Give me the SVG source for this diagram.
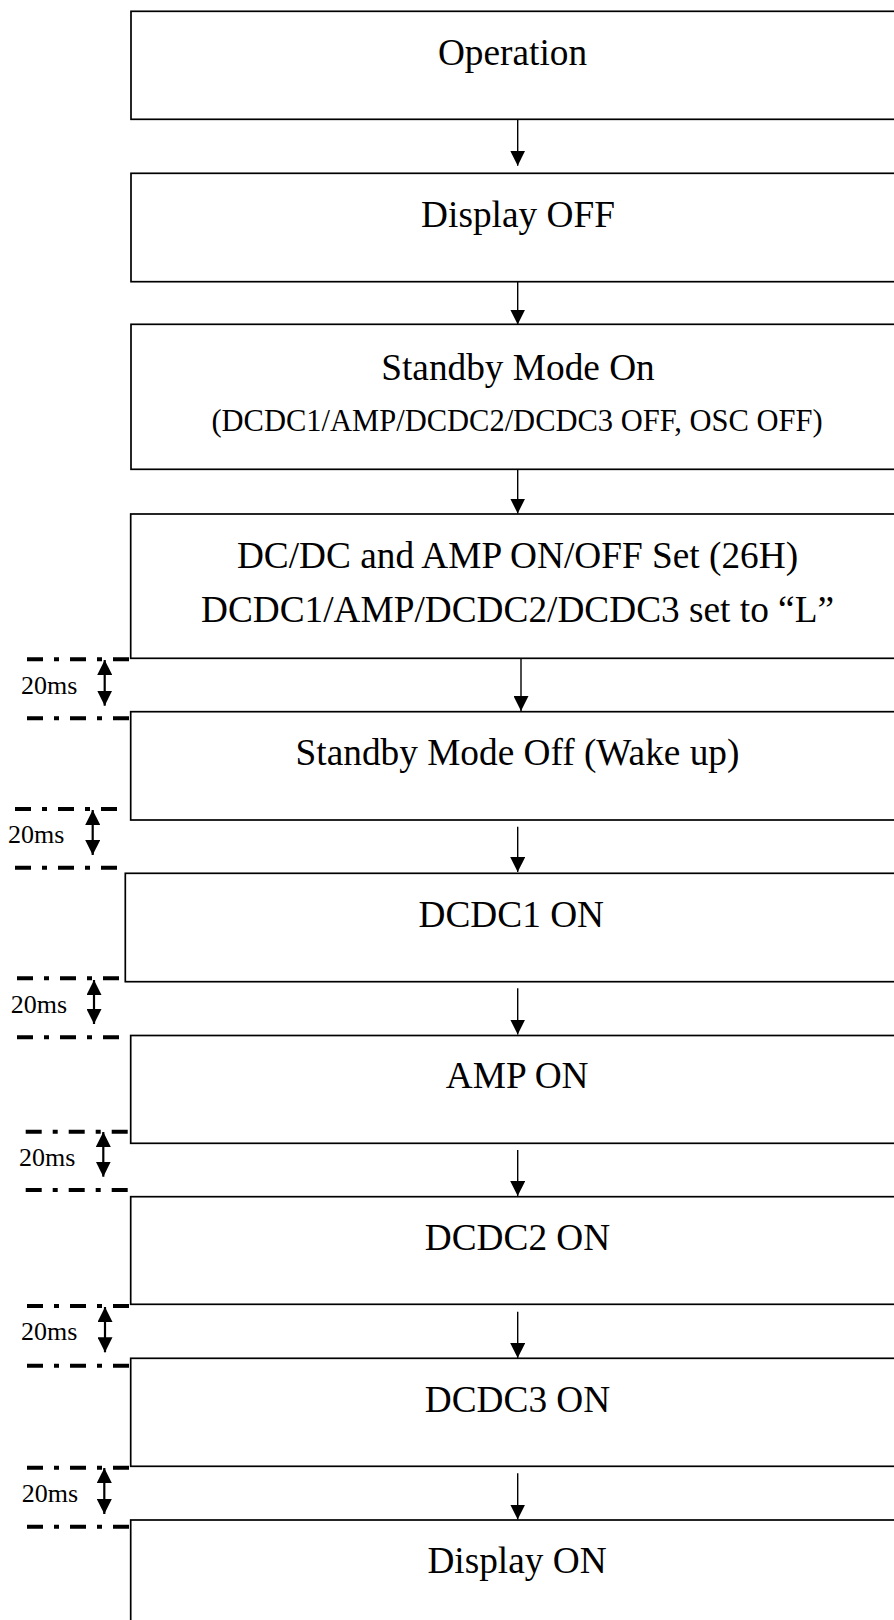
<svg xmlns="http://www.w3.org/2000/svg" width="894" height="1620" viewBox="0 0 894 1620">
<defs>
<marker id="ah" markerUnits="userSpaceOnUse" markerWidth="15" markerHeight="15" refX="15" refY="7.5" orient="auto-start-reverse" viewBox="0 0 15 15"><path d="M0,0 L15,7.5 L0,15 z" fill="#000"/></marker>
</defs>
<style>
.box{fill:#fff;stroke:#000;stroke-width:1.7}
.t{font-family:"Liberation Serif","Times New Roman",serif;font-size:37.3px;text-anchor:middle;fill:#000}
.s{font-size:30.5px}
.ms{font-family:"Liberation Serif","Times New Roman",serif;font-size:26px;fill:#000}
.dd{stroke:#000;stroke-width:4;stroke-dasharray:16 11 5 11;fill:none}
.fa{stroke:#000;stroke-width:1.4;fill:none;marker-end:url(#ah)}
.da{stroke:#000;stroke-width:2.2;fill:none;marker-start:url(#ah);marker-end:url(#ah)}
</style>
<rect width="894" height="1620" fill="#fff"/>

<g id="connectors">
<line class="fa" x1="517.7" y1="119.3" x2="517.7" y2="165.7"/>
<line class="fa" x1="517.7" y1="281.7" x2="517.7" y2="324.5"/>
<line class="fa" x1="517.7" y1="469.5" x2="517.7" y2="513.5"/>
<line class="fa" x1="521" y1="658.3" x2="521" y2="711"/>
<line class="fa" x1="517.7" y1="826.7" x2="517.7" y2="872"/>
<line class="fa" x1="517.7" y1="988.3" x2="517.7" y2="1034.5"/>
<line class="fa" x1="517.7" y1="1150" x2="517.7" y2="1196"/>
<line class="fa" x1="517.7" y1="1311.7" x2="517.7" y2="1358"/>
<line class="fa" x1="517.7" y1="1473.3" x2="517.7" y2="1519.5"/>
</g>

<g id="timing1">
<line class="dd" x1="27" y1="659.3" x2="131" y2="659.3"/>
<line class="dd" x1="27" y1="718.3" x2="131" y2="718.3"/>
<line class="da" x1="104.7" y1="660" x2="104.7" y2="705.7"/>
<text class="ms" x="21" y="694">20ms</text>
</g>
<g id="timing2">
<line class="dd" x1="15" y1="809" x2="119" y2="809"/>
<line class="dd" x1="15" y1="867.8" x2="119" y2="867.8"/>
<line class="da" x1="92.7" y1="810" x2="92.7" y2="855"/>
<text class="ms" x="8" y="843">20ms</text>
</g>
<g id="timing3">
<line class="dd" x1="17" y1="978.3" x2="121" y2="978.3"/>
<line class="dd" x1="17" y1="1037.3" x2="121" y2="1037.3"/>
<line class="da" x1="94" y1="980" x2="94" y2="1024"/>
<text class="ms" x="10.7" y="1013">20ms</text>
</g>
<g id="timing4">
<line class="dd" x1="25.7" y1="1131.7" x2="129.7" y2="1131.7"/>
<line class="dd" x1="25.7" y1="1190" x2="129.7" y2="1190"/>
<line class="da" x1="103.3" y1="1132" x2="103.3" y2="1176.7"/>
<text class="ms" x="19" y="1165.7">20ms</text>
</g>
<g id="timing5">
<line class="dd" x1="27" y1="1306" x2="131" y2="1306"/>
<line class="dd" x1="27" y1="1365.7" x2="131" y2="1365.7"/>
<line class="da" x1="105" y1="1307" x2="105" y2="1352.3"/>
<text class="ms" x="21" y="1340">20ms</text>
</g>
<g id="timing6">
<line class="dd" x1="27" y1="1467.7" x2="131" y2="1467.7"/>
<line class="dd" x1="27" y1="1526.7" x2="131" y2="1526.7"/>
<line class="da" x1="104.3" y1="1468" x2="104.3" y2="1514"/>
<text class="ms" x="21.7" y="1501.7">20ms</text>
</g>

<g id="n1"><rect class="box" x="131" y="11.3" width="780" height="108"/><text class="t" x="512.5" y="65">Operation</text></g>
<g id="n2"><rect class="box" x="131" y="173.3" width="780" height="108.4"/><text class="t" x="518" y="227.3">Display OFF</text></g>
<g id="n3"><rect class="box" x="131" y="324.3" width="780" height="145"/><text class="t" x="518" y="380">Standby Mode On</text><text class="t s" x="517" y="431">(DCDC1/AMP/DCDC2/DCDC3 OFF, OSC OFF)</text></g>
<g id="n4"><rect class="box" x="130.7" y="514" width="780" height="144.3"/><text class="t" x="517.5" y="568.3">DC/DC and AMP ON/OFF Set (26H)</text><text class="t" x="517.5" y="621.7">DCDC1/AMP/DCDC2/DCDC3 set to “L”</text></g>
<g id="n5"><rect class="box" x="130.7" y="711.7" width="780" height="108.3"/><text class="t" x="517.5" y="765">Standby Mode Off (Wake up)</text></g>
<g id="n6"><rect class="box" x="125.3" y="873.3" width="780" height="108.4"/><text class="t" x="511.3" y="926.7">DCDC1 ON</text></g>
<g id="n7"><rect class="box" x="130.7" y="1035.5" width="780" height="107.8"/><text class="t" x="517.2" y="1088.3">AMP ON</text></g>
<g id="n8"><rect class="box" x="130.7" y="1196.7" width="780" height="107.6"/><text class="t" x="517.5" y="1250">DCDC2 ON</text></g>
<g id="n9"><rect class="box" x="130.7" y="1358.3" width="780" height="108"/><text class="t" x="517.5" y="1411.7">DCDC3 ON</text></g>
<g id="n10"><rect class="box" x="130.7" y="1520" width="780" height="130"/><text class="t" x="517" y="1573.3">Display ON</text></g>
</svg>
